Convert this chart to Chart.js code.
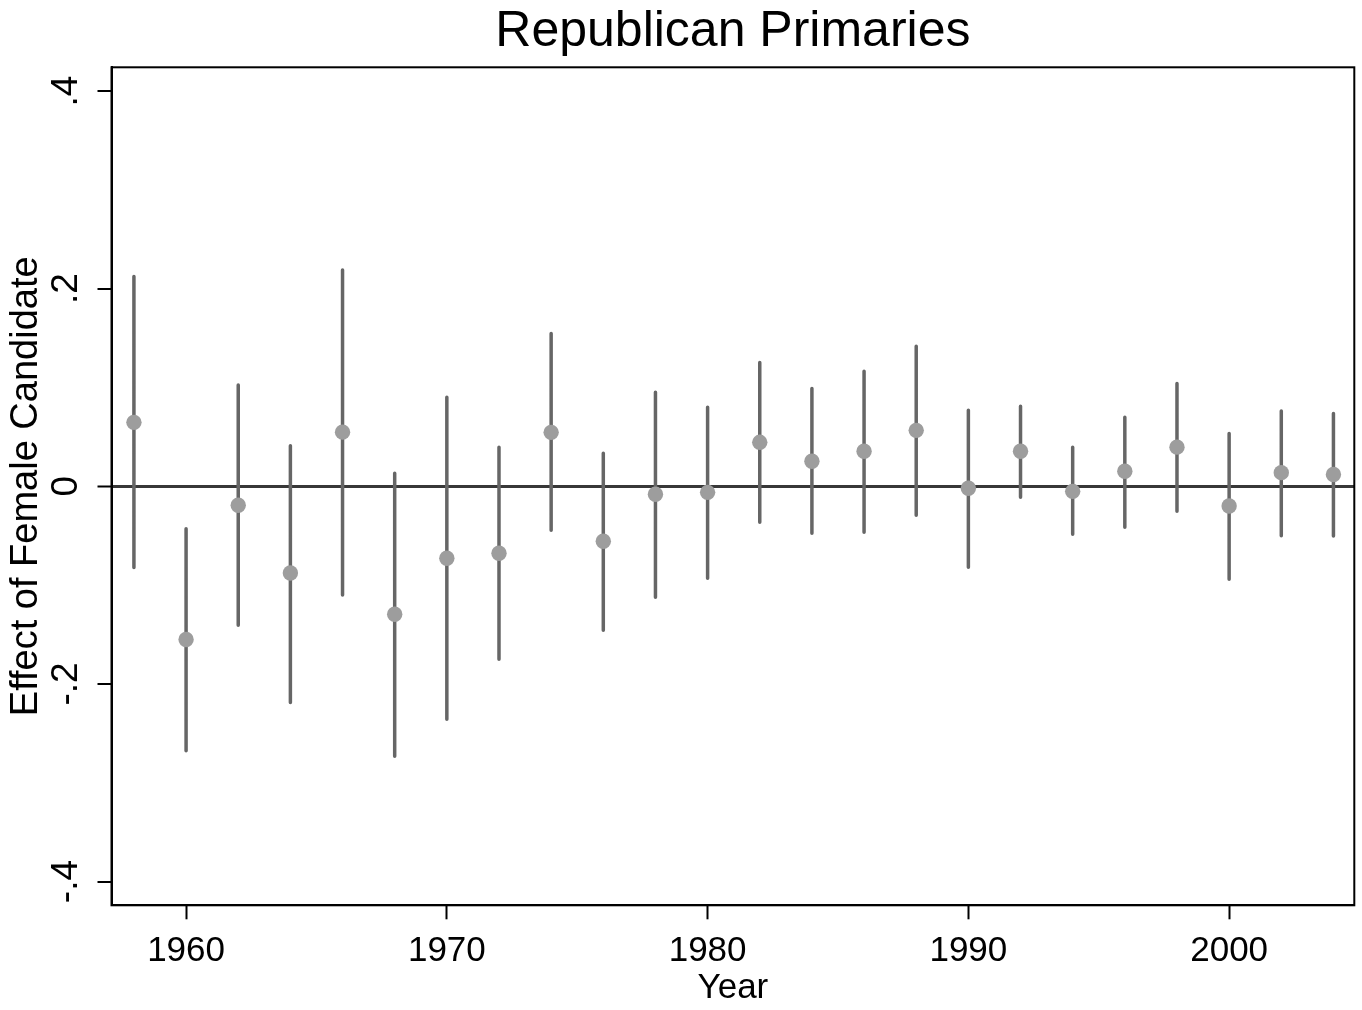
<!DOCTYPE html>
<html><head><meta charset="utf-8">
<script src="https://cdn.jsdelivr.net/npm/chart.js@4"></script>
<style>html,body{margin:0;padding:0;background:#fff}</style>
</head><body>
<canvas id="c" width="1362" height="1010"></canvas>
<script>
const years = [1958,1960,1962,1964,1966,1968,1970,1972,1974,1976,1978,1980,1982,1984,1986,1988,1990,1992,1994,1996,1998,2000,2002,2004];
const estimates = [0.0647,-0.1550,-0.0192,-0.0878,0.0548,-0.1295,-0.0728,-0.0678,0.0546,-0.0556,-0.0081,-0.0061,0.0445,0.0253,0.0354,0.0566,-0.0020,0.0354,-0.0051,0.0152,0.0396,-0.0200,0.0138,0.0120];
const lowerCI = [-0.0822,-0.2675,-0.1405,-0.2188,-0.1100,-0.2731,-0.2357,-0.1750,-0.0445,-0.1456,-0.1123,-0.0931,-0.0364,-0.0475,-0.0465,-0.0293,-0.0819,-0.0111,-0.0485,-0.0415,-0.0252,-0.0940,-0.0500,-0.0503];
const upperCI = [0.2124,-0.0430,0.1026,0.0411,0.2190,0.0131,0.0900,0.0394,0.1547,0.0334,0.0951,0.0799,0.1254,0.0990,0.1163,0.1416,0.0769,0.0809,0.0394,0.0698,0.1040,0.0534,0.0762,0.0736];

const xTickValues = [1960,1970,1980,1990,2000];
const yTickValues = [-0.4,-0.2,0,0.2,0.4];
const yTickLabels = ['-.4','-.2','0','.2','.4'];
const xRange = [1957.14, 2004.8];
const yRange = [-0.424, 0.424];

const pointData = years.map((x,i)=>({x:x, y:estimates[i]}));
const ciData = [];
years.forEach((x,i)=>{ ciData.push({x:x,y:lowerCI[i]},{x:x,y:upperCI[i]},{x:x,y:null}); });

Chart.defaults.font.family = "'Liberation Sans', Arial, Helvetica, sans-serif";
Chart.defaults.color = '#000';

const framePlugin = {
  id:'frame',
  afterDraw(chart){
    const {ctx, chartArea:a} = chart;
    ctx.save();
    ctx.strokeStyle = '#000';
    ctx.lineWidth = 2;
    ctx.strokeRect(a.left, a.top, a.right-a.left, a.bottom-a.top);
    ctx.restore();
  }
};

new Chart(document.getElementById('c'), {
  type:'scatter',
  data:{ datasets:[
    {type:'scatter', label:'Estimate', data:pointData, pointRadius:7.7, pointHoverRadius:7.7, backgroundColor:'#9d9d9d', borderWidth:0, order:0},
    {type:'line', label:'95% CI', data:ciData, borderColor:'#666666', borderWidth:3.5, borderCapStyle:'round', pointRadius:0, pointHoverRadius:0, spanGaps:false, fill:false, tension:0, order:1}
  ]},
  options:{
    responsive:false, animation:false, devicePixelRatio:1,
    layout:{padding:{left:0,right:7.5,top:0,bottom:0}},
    plugins:{
      legend:{display:false}, tooltip:{enabled:false},
      title:{display:true, text:'Republican Primaries', fullSize:false, color:'#000', font:{size:50, weight:'normal'}, padding:{top:2.5,bottom:4.8}}
    },
    scales:{
      x:{
        type:'linear', min:xRange[0], max:xRange[1],
        afterBuildTicks:s=>{ s.ticks = xTickValues.map(v=>({value:v})); },
        afterFit:s=>{ s.height = 104.7; },
        ticks:{font:{size:35}, color:'#000', padding:11, maxRotation:0, minRotation:0, autoSkip:false, callback:v=>String(v)},
        grid:{drawOnChartArea:false, drawTicks:true, tickLength:14, tickWidth:2, tickColor:'#000'},
        border:{display:true, color:'#000', width:2},
        title:{display:true, text:'Year', font:{size:35}, color:'#000', padding:{top:0,bottom:1}}
      },
      y:{
        type:'linear', min:yRange[0], max:yRange[1],
        afterBuildTicks:s=>{ s.ticks = yTickValues.map(v=>({value:v})); },
        afterFit:s=>{ s.width = 111.5; },
        ticks:{font:{size:37}, color:'#000', padding:9, minRotation:90, maxRotation:90, crossAlign:'center', autoSkip:false,
          callback:v=>{ const i = yTickValues.findIndex(t=>Math.abs(t-v)<1e-9); return i>=0 ? yTickLabels[i] : ''; }},
        grid:{drawOnChartArea:true, drawTicks:true, tickLength:14, tickWidth:2, tickColor:'#000',
          color:c=> (c.tick && Math.abs(c.tick.value)<1e-9) ? '#383838' : 'rgba(0,0,0,0)',
          lineWidth:c=> (c.tick && Math.abs(c.tick.value)<1e-9) ? 3 : 0},
        border:{display:true, color:'#000', width:2},
        title:{display:true, text:'Effect of Female Candidate', font:{size:38}, color:'#000', padding:{top:4,bottom:0}}
      }
    }
  },
  plugins:[framePlugin]
});
</script>
</body></html>
